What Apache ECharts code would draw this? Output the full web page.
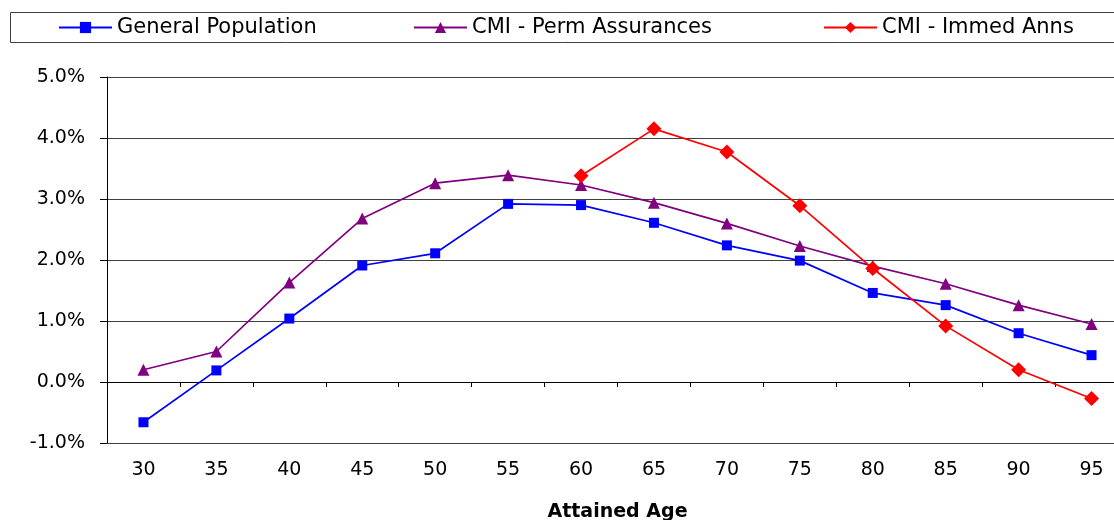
<!DOCTYPE html>
<html>
<head>
<meta charset="utf-8">
<script src="https://cdn.jsdelivr.net/npm/echarts@6/dist/echarts.min.js"></script>
<style>
  html, body { margin: 0; padding: 0; background: #fff; }
  #chart { width: 1114px; height: 520px; }
</style>
</head>
<body>
<div id="chart"></div>
<script>
// ages on the x axis
const ages = ['30', '35', '40', '45', '50', '55', '60', '65', '70', '75', '80', '85', '90', '95']

// values in percent
const generalPopulation = [-0.66, 0.19, 1.04, 1.91, 2.11, 2.92, 2.90, 2.61, 2.24, 1.99, 1.46, 1.26, 0.80, 0.44]
const permAssurances = [0.20, 0.50, 1.63, 2.68, 3.26, 3.39, 3.23, 2.94, 2.60, 2.23, 1.90, 1.61, 1.26, 0.95]
const immedAnns = [null, null, null, null, null, null, 3.38, 4.15, 3.77, 2.89, 1.86, 0.92, 0.20, -0.27]

const font = 'DejaVu Sans'

const myChart = echarts.init(document.getElementById('chart'))

// one legend per entry so each can sit where the original has it
function legendItem (name, left) {
  return {
    data: [name],
    left: left,
    top: 17,
    padding: 0,
    itemWidth: 53,
    itemHeight: 14,
    textStyle: { fontSize: 21, color: '#000', fontFamily: font }
  }
}

myChart.setOption({
  animation: false,
  textStyle: { fontFamily: font },

  // legend frame
  graphic: [
    {
      type: 'rect',
      shape: { x: 10.5, y: 12.5, width: 1120, height: 30 },
      style: { fill: 'none', stroke: '#404040', lineWidth: 1 }
    }
  ],

  legend: [
    legendItem('General Population', 58),
    legendItem('CMI - Perm Assurances', 413),
    legendItem('CMI - Immed Anns', 823)
  ],

  grid: {
    left: 107,
    right: -14,
    top: 77,
    bottom: 77,
    outerBoundsMode: 'none'
  },

  xAxis: [
    {
      // axis line at zero with the ticks
      type: 'category',
      data: ages,
      boundaryGap: true,
      axisLine: { onZero: true, lineStyle: { color: '#000', width: 1 } },
      axisTick: { show: true, length: 5, lineStyle: { color: '#000' } },
      axisLabel: { show: false },
      splitLine: { show: false }
    },
    {
      // labels and name at the bottom
      type: 'category',
      data: ages,
      position: 'bottom',
      boundaryGap: true,
      axisLine: { show: false, onZero: false },
      axisTick: { show: false },
      axisLabel: { margin: 18, fontSize: 19, color: '#000', fontFamily: font },
      splitLine: { show: false },
      name: 'Attained Age',
      nameLocation: 'middle',
      nameGap: 60,
      nameTextStyle: { fontSize: 19, fontWeight: 'bold', color: '#000', fontFamily: font }
    }
  ],

  yAxis: {
    type: 'value',
    min: -1,
    max: 5,
    interval: 1,
    axisLine: { show: true, lineStyle: { color: '#000', width: 1 } },
    axisTick: { show: true, length: 7, lineStyle: { color: '#000' } },
    axisLabel: {
      margin: 22,
      fontSize: 19,
      color: '#000',
      fontFamily: font,
      formatter: v => v.toFixed(1) + '%'
    },
    splitLine: { show: true, lineStyle: { color: '#404040', width: 1 } }
  },

  series: [
    {
      type: 'line',
      name: 'General Population',
      data: generalPopulation,
      symbol: 'rect',
      symbolSize: 10,
      lineStyle: { color: '#0000ff', width: 1.7 },
      itemStyle: { color: '#0000ff' }
    },
    {
      type: 'line',
      name: 'CMI - Perm Assurances',
      data: permAssurances,
      symbol: 'triangle',
      symbolSize: 12,
      lineStyle: { color: '#800080', width: 1.7 },
      itemStyle: { color: '#800080' }
    },
    {
      type: 'line',
      name: 'CMI - Immed Anns',
      data: immedAnns,
      symbol: 'diamond',
      symbolSize: 15,
      connectNulls: false,
      lineStyle: { color: '#ff0000', width: 1.7 },
      itemStyle: { color: '#ff0000' }
    }
  ]
})
</script>
</body>
</html>
